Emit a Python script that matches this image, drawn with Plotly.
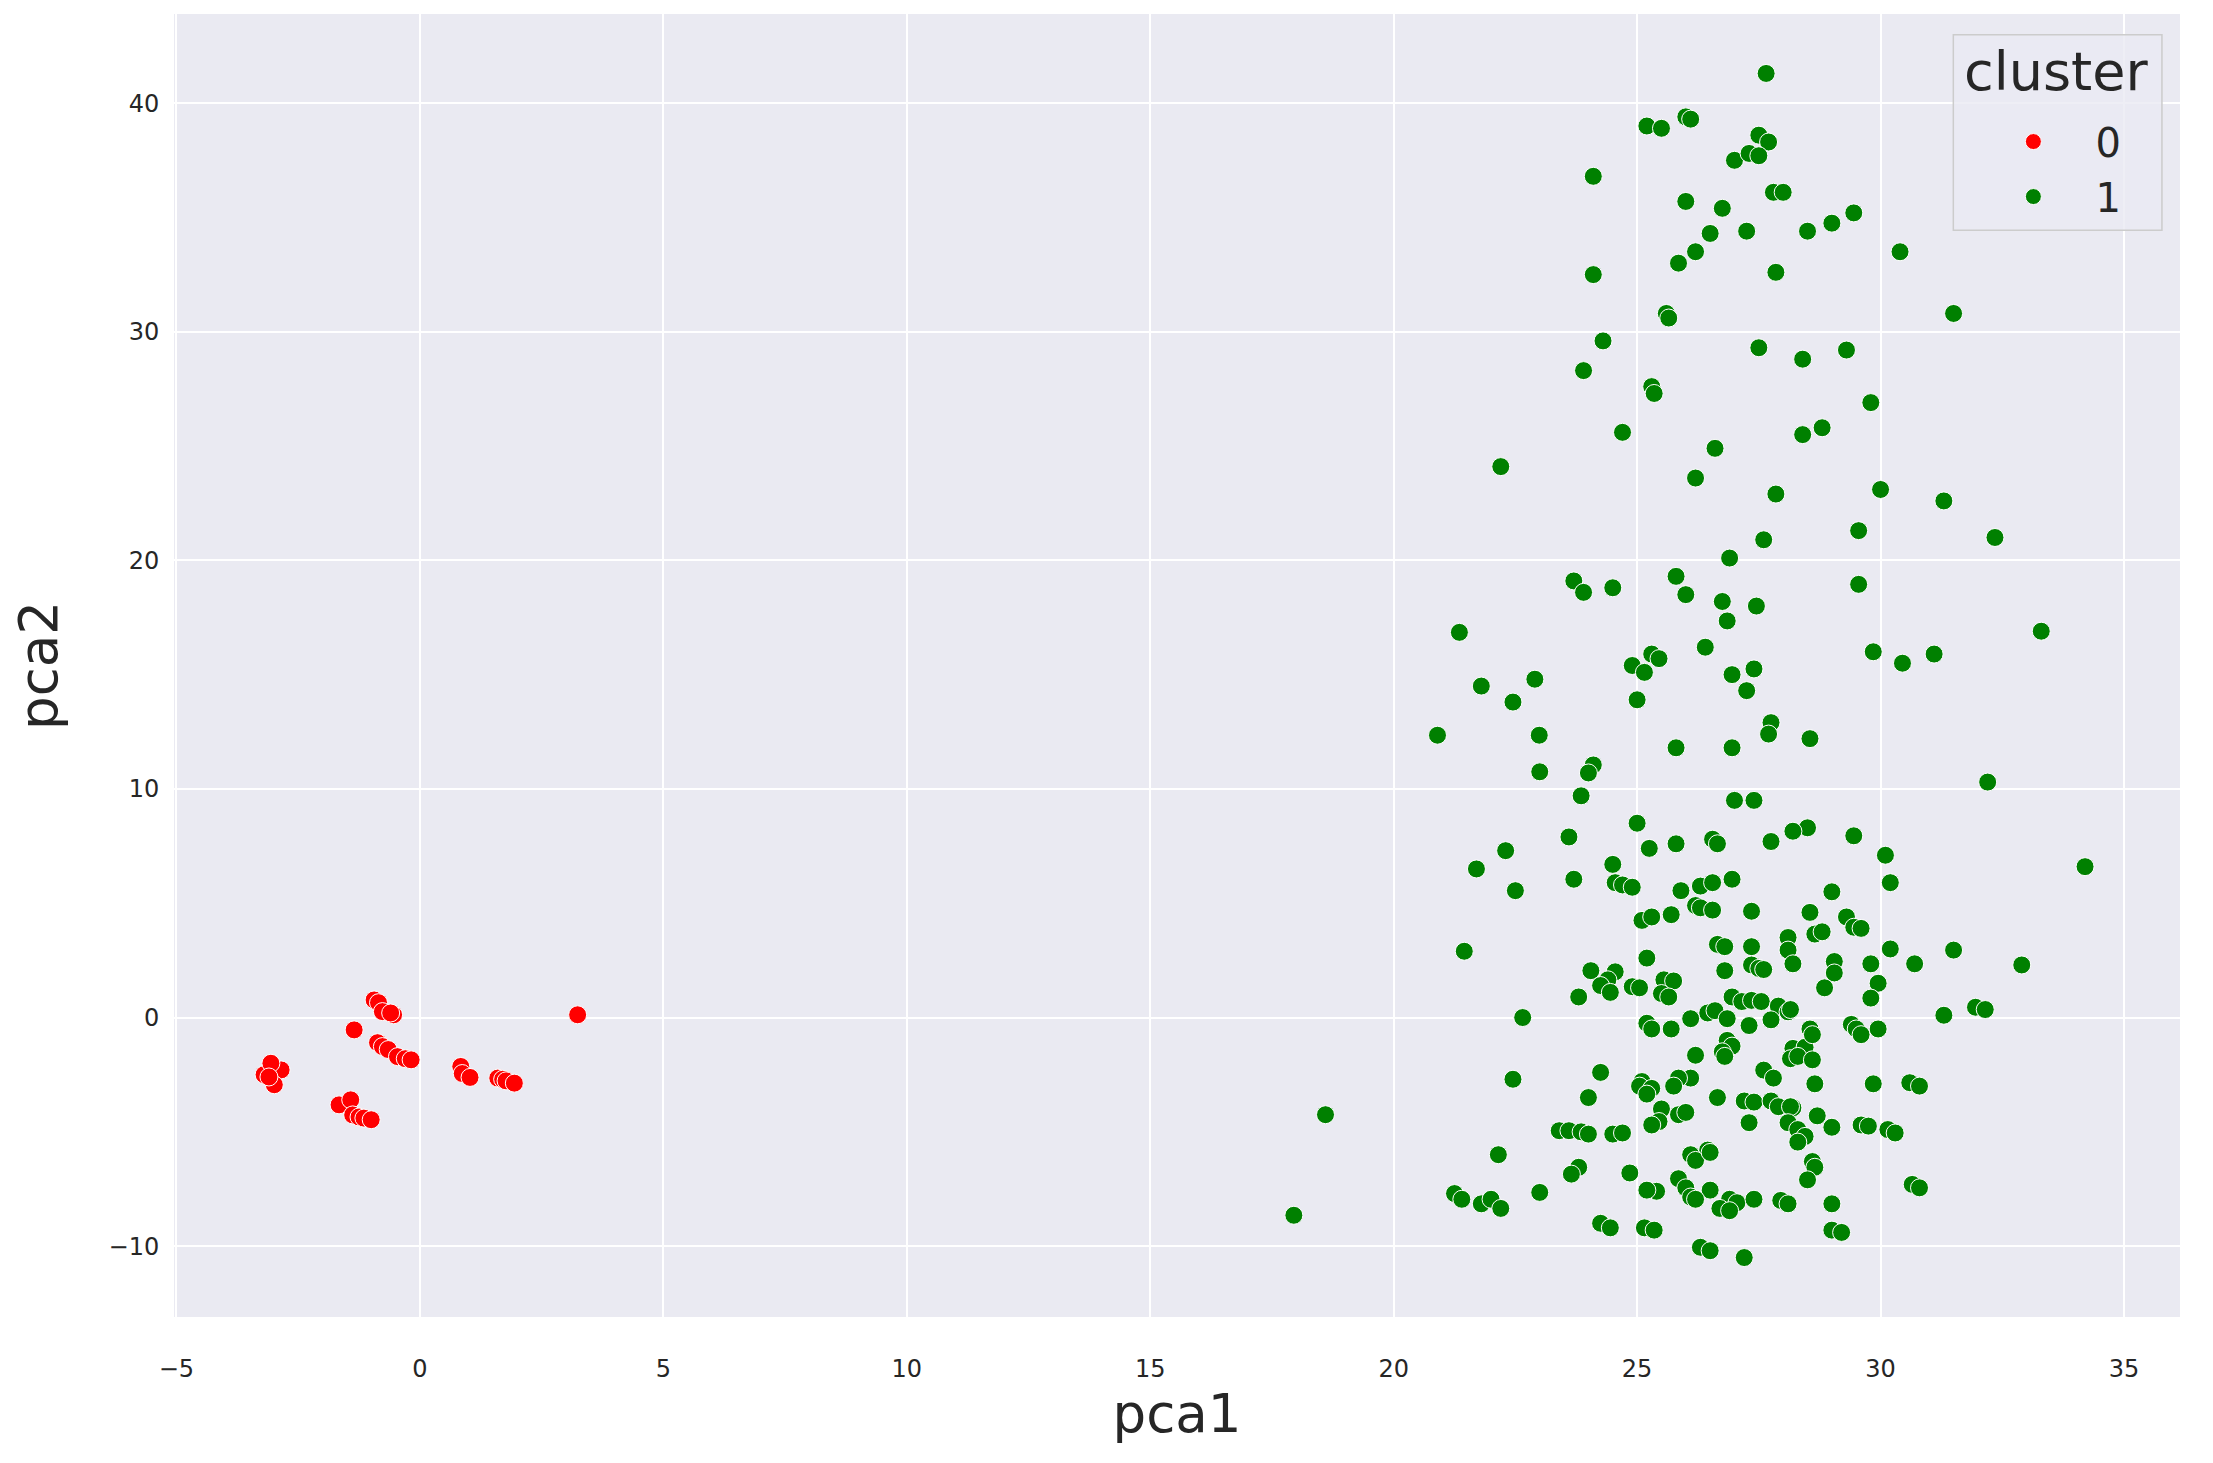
import plotly.graph_objects as go

# cluster 0 (red)
red_x = [-0.94, -0.85, -0.77, -0.54, -0.60, -1.35, -0.87, -0.77, -0.65, -0.46, -0.30, -0.18,
         -3.20, -2.85, -3.06, -2.99, -3.10, -1.66, -1.42, -1.38, -1.25, -1.15, -1.00,
         0.84, 0.87, 1.03, 1.60, 1.70, 1.77, 1.94, 3.24]
red_y = [0.77, 0.65, 0.26, 0.12, 0.20, -0.54, -1.10, -1.27, -1.40, -1.71, -1.80, -1.85,
         -2.50, -2.29, -2.00, -2.94, -2.60, -3.82, -3.60, -4.26, -4.35, -4.40, -4.47,
         -2.14, -2.45, -2.62, -2.65, -2.70, -2.77, -2.87, 0.12]

# cluster 1 (green)
green_x = [
    27.65, 25.2, 25.5, 26.0, 26.1, 27.5, 27.7, 27.0, 27.3, 27.5, 24.1, 27.8,
    28.0, 26.0, 26.75, 27.25, 26.5, 28.5, 29.0, 29.45, 26.2, 25.85, 30.4, 24.1,
    27.85, 25.6, 25.65, 31.5, 24.3, 27.5, 29.3, 28.4, 23.9, 25.3, 25.35, 29.8,
    24.7, 28.8, 28.4, 26.6, 22.2, 26.2, 30.0, 27.85, 31.3, 32.35, 29.55, 27.6,
    26.9, 23.7, 23.9, 24.5, 25.8, 26.0, 29.55, 26.75, 27.45, 26.85, 33.3, 21.35,
    26.4, 25.3, 25.45, 24.9, 25.15, 29.85, 30.45, 31.1, 27.4, 26.95, 22.9, 27.25,
    21.8, 25.0, 22.45, 27.75, 27.7, 28.55, 20.9, 22.99, 25.8, 26.95, 24.1, 24.0,
    23.0, 32.2, 23.85, 27.0, 27.4, 25.0, 28.5, 28.2, 23.6, 29.45, 27.75, 25.8,
    26.55, 26.65, 22.3, 25.25, 30.1, 26.95, 24.5, 21.7, 34.2, 23.7, 24.55, 24.7,
    24.9, 30.2, 26.3, 26.55, 25.9, 22.5, 29.0, 26.2, 26.3, 26.55, 27.35, 25.7,
    28.55, 29.3, 25.1, 25.3, 29.45, 29.6, 28.65, 28.8, 28.1, 26.65, 26.8, 27.35,
    21.45, 28.1, 30.2, 31.5, 25.2, 29.05, 29.8, 30.7, 27.35, 27.5, 26.8, 27.6,
    24.05, 24.55, 28.2, 32.9, 29.05, 24.4, 25.55, 25.75, 24.9, 25.05, 24.25, 24.45,
    28.85, 29.95, 25.5, 25.65, 29.8, 23.8, 26.95, 27.15, 27.35, 27.55, 27.9, 28.1,
    28.15, 31.95, 32.15, 31.3, 26.45, 26.6, 26.1, 22.65, 26.85, 25.2, 25.3, 25.7,
    27.3, 29.4, 29.5, 29.6, 28.55, 29.95, 27.75, 26.85, 26.95, 26.2, 28.2, 28.45,
    28.6, 26.75, 26.8, 28.15, 28.3, 24.25, 27.6, 27.8, 28.6, 28.65, 22.45, 25.1,
    26.1, 29.85, 25.05, 25.3, 25.85, 25.75, 25.2, 24.0, 30.6, 30.8, 26.65, 27.2,
    27.4, 27.75, 27.9, 28.2, 25.5, 25.85, 26.0, 28.7, 25.45, 25.3, 28.15, 27.3,
    28.1, 28.3, 29.6, 29.75, 23.4, 23.6, 23.85, 24.0, 24.5, 24.7, 30.15, 30.3,
    29.0, 28.45, 28.3, 26.45, 22.15, 26.1, 26.2, 26.5, 24.85, 23.8, 23.65, 28.6,
    28.65, 28.5, 25.4, 25.2, 25.85, 26.0, 26.5, 30.65, 30.8, 23.0, 21.25, 21.4,
    21.8, 22.0, 22.2, 26.1, 26.2, 26.9, 27.05, 27.4, 26.7, 26.9, 27.95, 28.1,
    29.0, 25.15, 25.35, 24.25, 24.45, 29.0, 29.2, 26.3, 26.5, 27.2, 17.95, 18.6,
]
green_y = [
    41.3, 39.0, 38.9, 39.4, 39.3, 38.6, 38.3, 37.5, 37.8, 37.7, 36.8, 36.1,
    36.1, 35.7, 35.4, 34.4, 34.3, 34.4, 34.75, 35.2, 33.5, 33.0, 33.5, 32.5,
    32.6, 30.8, 30.6, 30.8, 29.6, 29.3, 29.2, 28.8, 28.3, 27.6, 27.3, 26.9,
    25.6, 25.8, 25.5, 24.9, 24.1, 23.6, 23.1, 22.9, 22.6, 21.0, 21.3, 20.9,
    20.1, 19.1, 18.6, 18.8, 19.3, 18.5, 18.95, 18.2, 18.0, 17.35, 16.9, 16.85,
    16.2, 15.9, 15.7, 15.4, 15.1, 16.0, 15.5, 15.9, 15.25, 15.0, 14.8, 14.3,
    14.5, 13.9, 13.8, 12.9, 12.4, 12.2, 12.35, 12.35, 11.8, 11.8, 11.05, 10.7,
    10.75, 10.3, 9.7, 9.5, 9.5, 8.5, 8.3, 8.15, 7.9, 7.95, 7.7, 7.6,
    7.8, 7.6, 7.3, 7.4, 7.1, 6.05, 6.7, 6.5, 6.6, 6.05, 5.9, 5.8,
    5.7, 5.9, 5.75, 5.9, 5.55, 5.55, 5.5, 4.9, 4.8, 4.7, 4.65, 4.5,
    4.6, 4.4, 4.25, 4.4, 3.95, 3.9, 3.65, 3.75, 3.5, 3.2, 3.1, 3.1,
    2.9, 2.95, 3.0, 2.95, 2.6, 2.45, 2.35, 2.35, 2.3, 2.15, 2.05, 2.1,
    2.05, 2.0, 2.35, 2.3, 1.95, 1.65, 1.65, 1.6, 1.35, 1.3, 1.4, 1.1,
    1.3, 1.5, 1.05, 0.9, 0.85, 0.9, 0.9, 0.7, 0.75, 0.7, 0.5, 0.25,
    0.35, 0.45, 0.35, 0.1, 0.2, 0.3, -0.05, 0.0, -0.05, -0.25, -0.5, -0.5,
    -0.35, -0.3, -0.5, -0.75, -0.5, -0.5, -0.1, -1.0, -1.25, -1.65, -1.35, -1.3,
    -0.75, -1.5, -1.7, -1.8, -1.7, -2.4, -2.3, -2.65, -1.85, -2.9, -2.7, -2.8,
    -2.65, -2.9, -3.0, -3.1, -2.65, -3.0, -3.35, -3.5, -2.85, -3.0, -3.5, -3.65,
    -3.7, -3.65, -3.9, -3.95, -4.0, -4.25, -4.15, -4.3, -4.55, -4.7, -3.9, -4.6,
    -4.6, -4.9, -4.7, -4.75, -4.95, -4.95, -5.0, -5.1, -5.1, -5.05, -4.9, -5.05,
    -4.8, -5.2, -5.45, -5.8, -6.0, -6.0, -6.25, -5.9, -6.8, -6.55, -6.85, -6.3,
    -6.55, -7.1, -7.6, -7.55, -7.05, -7.45, -7.55, -7.3, -7.45, -7.65, -7.7, -7.95,
    -8.15, -7.95, -8.35, -7.85, -7.95, -7.95, -8.1, -7.95, -8.35, -8.45, -8.0, -8.15,
    -8.15, -9.2, -9.3, -9.0, -9.2, -9.3, -9.4, -10.05, -10.2, -10.5, -8.65, -4.25,
]

x_ticks = [-5, 0, 5, 10, 15, 20, 25, 30, 35]
y_ticks = [-10, 0, 10, 20, 30, 40]
legend_title = "cluster"

FONT = "DejaVu Sans"
TXT = "#262626"
BG = "#EAEAF2"

fig = go.Figure()
fig.add_trace(go.Scatter(
    x=red_x, y=red_y, mode="markers", name="0",
    marker=dict(color="#FF0000", size=18, line=dict(color="white", width=1)),
))
fig.add_trace(go.Scatter(
    x=green_x, y=green_y, mode="markers", name="1",
    marker=dict(color="#008000", size=18, line=dict(color="white", width=1)),
))

# legend frame and title (seaborn style box)
fig.add_shape(
    type="rect", xref="paper", yref="paper",
    x0=0.887, x1=0.991, y0=0.834, y1=0.984,
    fillcolor="rgba(234,234,242,0.8)", line=dict(color="#CCCCCC", width=1.5),
    layer="above",
)
fig.add_annotation(
    text=legend_title, xref="paper", yref="paper", x=0.938, y=0.956,
    xanchor="center", yanchor="middle", showarrow=False,
    font=dict(size=54, color=TXT, family=FONT),
)

fig.update_layout(
    width=2213, height=1463,
    margin=dict(l=166, r=41, t=6, b=154),
    paper_bgcolor="white", plot_bgcolor=BG,
    font=dict(family=FONT, color=TXT, size=24),
    legend=dict(
        font=dict(size=40, color=TXT),
        x=0.896, y=0.881, xanchor="left", yanchor="middle",
        bgcolor="rgba(0,0,0,0)", borderwidth=0,
        itemwidth=114,
    ),
    xaxis=dict(
        range=[-5.05, 36.15], tickvals=x_ticks, showgrid=True, gridcolor="white",
        gridwidth=2, zeroline=False, showline=False,
        ticks="outside", ticklen=30, tickcolor="rgba(0,0,0,0)",
        tickfont=dict(size=24, color=TXT),
        title=dict(text="pca1", font=dict(size=53, color=TXT), standoff=13),
    ),
    yaxis=dict(
        range=[-13.1, 43.9], tickvals=y_ticks, showgrid=True, gridcolor="white",
        gridwidth=2, zeroline=False, showline=False,
        ticks="outside", ticklen=9, tickcolor="rgba(0,0,0,0)",
        tickfont=dict(size=24, color=TXT),
        title=dict(text="pca2", font=dict(size=53, color=TXT), standoff=38),
    ),
)

fig.write_html("out.html")
